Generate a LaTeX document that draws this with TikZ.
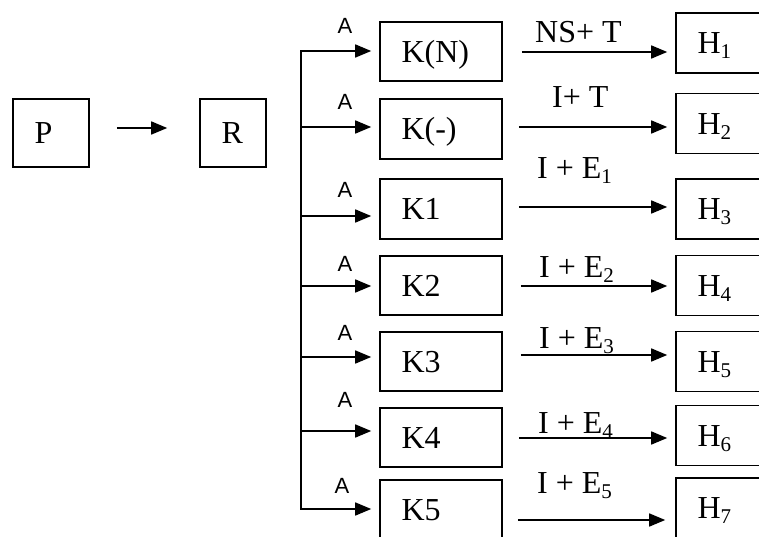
\documentclass[tikz,border=0pt]{standalone}
\usepackage{fontspec}
\setmainfont{Liberation Serif}
\newfontfamily\labsans{Liberation Sans}
\usetikzlibrary{arrows.meta}
\newcommand\mysub[1]{\raisebox{-5pt}{\fontsize{21}{21}\selectfont #1}}
\begin{document}
\begin{tikzpicture}[x=1pt, y=-1pt,
  box/.style={draw, line width=1.6pt, inner xsep=21.5pt, inner ysep=0pt,
    align=left, text height=21.5pt, text depth=0pt,
    font=\fontsize{32}{38}\selectfont},
  kbox/.style={box, text width=79pt, minimum height=59.5pt},
  hbox/.style={box, text width=77pt, minimum height=60pt},
  arr/.style={-{Triangle[length=16pt,width=13pt]}, line width=1.6pt},
  lab/.style={font=\fontsize{32}{38}\selectfont, inner sep=0pt, anchor=base west},
  alab/.style={font=\labsans\fontsize{22}{26}\selectfont, inner sep=0pt, anchor=base}]
\useasboundingbox (0,0) rectangle (759,537);
\fill[white] (0,0) rectangle (759,537);
\clip (0,0) rectangle (759,537);

% P and R
\node[box, text width=33pt, minimum height=68pt] (P) at (51,133) {P};
\node[box, text width=23pt, minimum height=68pt] (R) at (233,133) {R};
\coordinate (yp) at (0,128);
\draw[arr, shorten <=27pt, shorten >=32pt] (P.east |- yp) -- (R.west |- yp);

% K boxes
\node[kbox] (KN) at (441,51.5) {K(N)};
\node[kbox] (Km) at (441,129) {K(-)};
\node[kbox] (K1) at (441,209) {K1};
\node[kbox] (K2) at (441,285.5) {K2};
\node[kbox] (K3) at (441,361.5) {K3};
\node[kbox] (K4) at (441,437.5) {K4};
\node[kbox] (K5) at (441,510) {K5};

% H boxes
\node[hbox] (H1) at (736,43) {H\mysub{1}};
\node[hbox] (H2) at (736,123.5) {H\mysub{2}};
\node[hbox] (H3) at (736,209) {H\mysub{3}};
\node[hbox] (H4) at (736,285.5) {H\mysub{4}};
\node[hbox] (H5) at (736,361.5) {H\mysub{5}};
\node[hbox] (H6) at (736,435.5) {H\mysub{6}};
\node[hbox] (H7) at (736,508) {H\mysub{7}};

% branch
\coordinate (b1) at (301,51);
\coordinate (b2) at (301,127);
\coordinate (b3) at (301,216);
\coordinate (b4) at (301,286);
\coordinate (b5) at (301,357);
\coordinate (b6) at (301,431);
\coordinate (b7) at (301,509);
\draw[line width=1.6pt, line cap=rect] (b1) -- (b7);
\draw[arr, shorten >=8pt] (b1) -- (b1 -| KN.west);
\draw[arr, shorten >=8pt] (b2) -- (b2 -| Km.west);
\draw[arr, shorten >=8pt] (b3) -- (b3 -| K1.west);
\draw[arr, shorten >=8pt] (b4) -- (b4 -| K2.west);
\draw[arr, shorten >=8pt] (b5) -- (b5 -| K3.west);
\draw[arr, shorten >=8pt] (b6) -- (b6 -| K4.west);
\draw[arr, shorten >=8pt] (b7) -- (b7 -| K5.west);

% A labels
\node[alab] (a1) at (345,34) {A};
\node[alab] (a2) at (345,110) {A};
\node[alab] (a3) at (345,198) {A};
\node[alab] (a4) at (345,271) {A};
\node[alab] (a5) at (345,340) {A};
\node[alab] (a6) at (345,407) {A};
\node[alab] (a7) at (342,493) {A};

% K -> H arrows
\coordinate (h1) at (0,52);
\coordinate (h2) at (0,127);
\coordinate (h3) at (0,207);
\coordinate (h4) at (0,286);
\coordinate (h5) at (0,355);
\coordinate (h6) at (0,438);
\coordinate (h7) at (0,520);
\draw[arr, shorten <=19pt, shorten >=8pt] (KN.east |- h1) -- (H1.west |- h1);
\draw[arr, shorten <=16pt, shorten >=8pt] (Km.east |- h2) -- (H2.west |- h2);
\draw[arr, shorten <=16pt, shorten >=8pt] (K1.east |- h3) -- (H3.west |- h3);
\draw[arr, shorten <=18pt, shorten >=8pt] (K2.east |- h4) -- (H4.west |- h4);
\draw[arr, shorten <=18pt, shorten >=8pt] (K3.east |- h5) -- (H5.west |- h5);
\draw[arr, shorten <=16pt, shorten >=8pt] (K4.east |- h6) -- (H6.west |- h6);
\draw[arr, shorten <=15pt, shorten >=10pt] (K5.east |- h7) -- (H7.west |- h7);

% arrow labels
\node[lab] (l1) at (535,43) {NS+ T};
\node[lab] (l2) at (552,108) {I+ T};
\node[lab] (l3) at (537,179) {I + E\mysub{1}};
\node[lab] (l4) at (539,277) {I + E\mysub{2}};
\node[lab] (l5) at (539,348) {I + E\mysub{3}};
\node[lab] (l6) at (538,433) {I + E\mysub{4}};
\node[lab] (l7) at (537,493) {I + E\mysub{5}};
\end{tikzpicture}
\end{document}
